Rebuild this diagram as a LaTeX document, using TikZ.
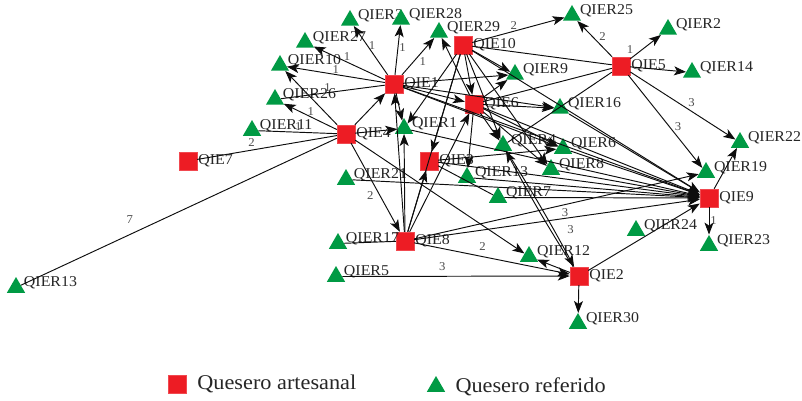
\documentclass[tikz,border=0pt]{standalone}
\usepackage{fontspec}
\setmainfont{Liberation Serif}[FakeStretch=1.06]
\usetikzlibrary{arrows.meta,shapes.geometric,positioning}

\definecolor{qred}{RGB}{237,28,36}
\definecolor{qgreen}{RGB}{0,154,68}
\newcommand{\lblfont}{\fontsize{15}{15}\selectfont}

\begin{document}
\begin{tikzpicture}[x=1pt,y=-1pt,
    art/.style={fill=qred, draw=qred!80, minimum size=18pt, inner sep=0pt},
    refd/.style={regular polygon, regular polygon sides=3, fill=qgreen,
      minimum size=21pt, inner sep=0pt, yshift=-2.5pt},
    sqtxt/.style={anchor=west, inner sep=0pt, xshift=1pt, font=\lblfont, text=black!85},
    trtxt/.style={anchor=base west, inner sep=0pt, xshift=1.5pt, yshift=1pt, font=\lblfont, text=black!85},
    sqlab/.style={label={[sqtxt]east:#1}},
    trlab/.style={label={[trtxt]east:#1}},
    edge/.style={line width=0.95pt, black!95},
    arr/.style={edge, -{Stealth[length=12pt,width=9pt,inset=3pt]}},
    wt/.style={font=\fontsize{12}{12}\selectfont, text=black!70, inner sep=1pt},
    legtxt/.style={font=\fontsize{21}{21}\selectfont, text=black!85, inner sep=0pt}]
  \useasboundingbox (0,0) rectangle (802,401);

  % queseros artesanales
  \node[art, sqlab=QIE10] (qie10) at (463,45) {};
  \node[art, sqlab=QIE1] (qie1) at (394,84) {};
  \node[art, sqlab=QIE6] (qie6) at (474,104) {};
  \node[art, sqlab=QIE4] (qie4) at (346,134) {};
  \node[art, sqlab=QIE5] (qie5) at (621,66) {};
  \node[art, sqlab=QIE7] (qie7) at (188,161) {};
  \node[art, sqlab=QIE3] (qie3) at (429,161) {};
  \node[art, sqlab=QIE8] (qie8) at (405,241) {};
  \node[art, sqlab=QIE2] (qie2) at (579,276) {};
  \node[art, sqlab=QIE9] (qie9) at (709,198) {};

  % queseros referidos
  \node[refd, trlab=QIER3] (qier3) at (350,18) {};
  \node[refd, trlab=QIER28] (qier28) at (401,17) {};
  \node[refd, trlab=QIER29] (qier29) at (439,30) {};
  \node[refd, trlab=QIER27] (qier27) at (305,40) {};
  \node[refd, trlab=QIER10] (qier10) at (280,63) {};
  \node[refd, trlab=QIER26] (qier26) at (275,97) {};
  \node[refd, trlab=QIER11] (qier11) at (252,128) {};
  \node[refd, trlab=QIER1] (qier1) at (404,126) {};
  \node[refd, trlab=QIER9] (qier9) at (515,72) {};
  \node[refd, trlab=QIER25] (qier25) at (572,13) {};
  \node[refd, trlab=QIER2] (qier2) at (668,27) {};
  \node[refd, trlab=QIER14] (qier14) at (692,70) {};
  \node[refd, trlab=QIER16] (qier16) at (560,106) {};
  \node[refd, trlab=QIER4] (qier4) at (503,143) {};
  \node[refd, trlab=QIER6] (qier6) at (563,146) {};
  \node[refd, trlab=QIER8] (qier8) at (551,167) {};
  \node[refd, trlab=QIER13] (qier13a) at (467,175) {};
  \node[refd, trlab=QIER7] (qier7) at (498,195) {};
  \node[refd, trlab=QIER21] (qier21) at (346,177) {};
  \node[refd, trlab=QIER22] (qier22) at (740,140) {};
  \node[refd, trlab=QIER19] (qier19) at (706,170) {};
  \node[refd, trlab=QIER24] (qier24) at (636,228) {};
  \node[refd, trlab=QIER23] (qier23) at (709,243) {};
  \node[refd, trlab=QIER17] (qier17) at (338,241) {};
  \node[refd, trlab=QIER12] (qier12) at (529,254) {};
  \node[refd, trlab=QIER5] (qier5) at (336,274) {};
  \node[refd, trlab=QIER30] (qier30) at (578,321) {};
  \node[refd, trlab=QIER13] (qier13b) at (16,285) {};

  % QIE1
  \draw[arr] (qie1) -- node[wt, pos=0.6, right] {1} (qier3);
  \draw[arr] (qie1) -- node[wt, pos=0.55, right] {1} (qier28);
  \draw[arr] (qie1) -- node[wt, pos=0.5, below right] {1} (qier29);
  \draw[arr] (qie1) -- node[wt, pos=0.53, above] {1} (qier27);
  \draw[arr] (qie1) -- node[wt, pos=0.5, above] {1} (qier10);
  \draw[edge] (qie1) -- node[wt, pos=0.55, above] {1} (qier26);
  \draw[arr] (qie1) -- (qier9);
  \draw[arr] (qie1) -- (qie6);
  \draw[arr] (qie1) -- (qier1);
  \draw[arr] (qie1) -- (qier6);
  \draw[arr] (qie1) -- (qier16);
  \draw[arr] (qie1) -- (qie9);
  % QIE4
  \draw[arr] (qie4) -- (qier10);
  \draw[arr] (qie4) -- node[wt, pos=0.49, above] {1} (qier26);
  \draw[edge] (qie4) -- node[wt, pos=0.49, above] {1} (qier11);
  \draw[edge] (qie4) -- node[wt, pos=0.61, above=2pt] {2} (qie7);
  \draw[edge] (qie4) -- node[wt, pos=0.655, above=10pt] {7} (qier13b);
  \draw[arr] (qie4) -- (qie1);
  \draw[arr] (qie4) -- (qier1);
  \draw[arr] (qie4) -- node[wt, pos=0.59, left=5pt] {2} (qie8);
  \draw[arr] (qie4) -- (qier12);
  % QIE10
  \draw[arr] (qie10) -- node[wt, pos=0.45, above] {2} (qier25);
  \draw[edge] (qie10) -- (qie5);
  \draw[arr] (qie10) -- (qie6);
  \draw[arr] (qie10) -- (qier9);
  \draw[arr] (qie10) -- (qier1);
  \draw[arr] (qie10) -- (qie3);
  \draw[arr] (qie10) -- (qier4);
  \draw[arr] (qie10) -- (qier8);
  \draw[arr] (qie10) -- (qie9);
  % QIE6
  \draw[arr] (qie6) -- (qier29);
  \draw[arr] (qie6) -- (qier16);
  \draw[arr] (qie6) -- (qier9);
  \draw[arr] (qie6) -- (qier13a);
  \draw[arr] (qie6) -- (qier4);
  \draw[arr] (qie6) -- (qier6);
  \draw[arr] (qie6) -- (qier8);
  \draw[arr] (qie6) -- (qie9);
  \draw[edge] (qie6) -- (qie5);
  % QIE8
  \draw[arr] (qie8) -- (qier1);
  \draw[arr] (qie8) -- (qie1);
  \draw[arr] (qie8) -- (qie3);
  \draw[arr] (qie8) -- (qie6);
  \draw[edge] (qie8) -- (qie10);
  \draw[edge] (qie8) -- (qier17);
  \draw[arr] (qie8) -- node[wt, pos=0.53, below=2pt] {3} (qier19);
  \draw[arr] (qie8) -- (qie9);
  \draw[arr] (qie8) -- node[wt, pos=0.44, above=5pt] {2} (qie2);
  % QIE3
  \draw[arr] (qie3) -- (qier6);
  \draw[edge] (qie3) -- (qier7);
  \draw[arr] (qie3) -- (qie9);
  % QIE5
  \draw[arr] (qie5) -- node[wt, pos=0.41, above right] {2} (qier25);
  \draw[arr] (qie5) -- node[wt, pos=0.15, above left] {1} (qier2);
  \draw[arr] (qie5) -- (qier14);
  \draw[arr] (qie5) -- node[wt, pos=0.54, above right] {3} (qier22);
  \draw[arr] (qie5) -- node[wt, pos=0.61, above right] {3} (qier19);
  \draw[edge] (qie5) -- (qier4);
  % QIE9
  \draw[arr] (qie9) -- (qier22);
  \draw[arr] (qie9) -- node[wt, pos=0.5, right] {1} (qier23);
  % QIE2
  \draw[arr] (qie2) -- (qier30);
  \draw[arr] (qie2) -- (qier12);
  \draw[arr] (qier5) -- node[wt, pos=0.44, above=4pt] {3} (qie2);
  \draw[arr] (qie2) -- (qie9);
  \draw[arr] (qier4) to[bend left=2] node[wt, pos=0.7, right=12pt] {3} (qie2);
  \draw[arr] (qie2) to[bend left=2] (qier4);
  % hacia QIE9
  \draw[arr] (qier21) -- (qie9);
  \draw[arr] (qier13a) -- (qie9);
  \draw[arr] (qier7) -- (qie9);
  \draw[arr] (qier6) -- (qie9);
  \draw[arr] (qier8) -- (qie9);
  \draw[arr] (qier16) -- (qie9);
  \draw[arr] (qier1) -- (qie9);

  % leyenda
  \node[art] (legart) at (177,384) {};
  \node[legtxt, right=11pt of legart] (legarttxt) {Quesero artesanal};
  \node[refd] (legref) at (436,384) {};
  \node[legtxt, right=13pt of legref.east] (legreftxt) {Quesero referido};
\end{tikzpicture}
\end{document}
